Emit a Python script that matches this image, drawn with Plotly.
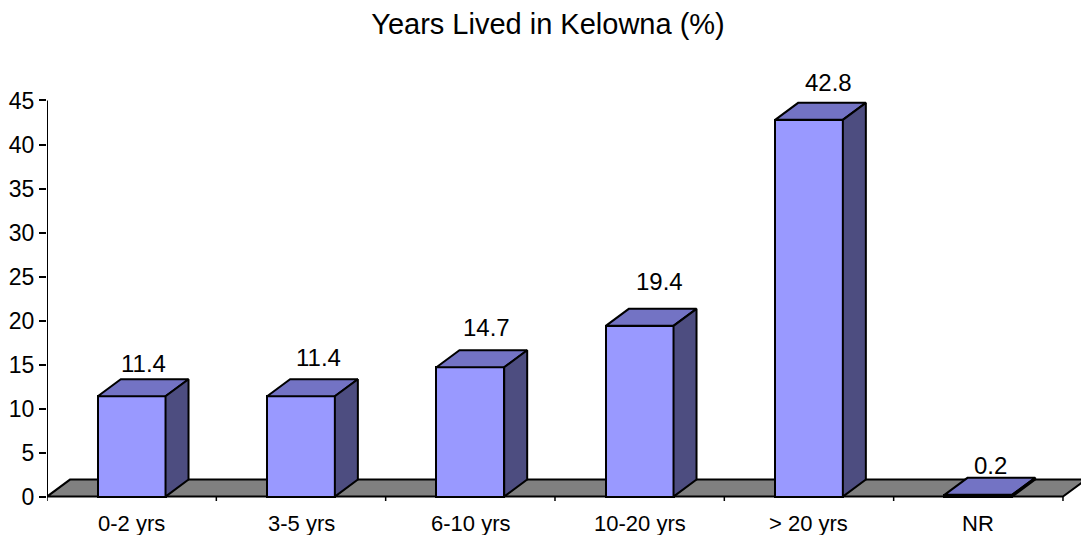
import plotly.graph_objects as go

# ---- data ----
categories = ["0-2 yrs", "3-5 yrs", "6-10 yrs", "10-20 yrs", "> 20 yrs", "NR"]
values = [11.4, 11.4, 14.7, 19.4, 42.8, 0.2]
y_tick_values = [0, 5, 10, 15, 20, 25, 30, 35, 40, 45]
y_tick_labels = ["0", "5", "10", "15", "20", "25", "30", "35", "40", "45"]
title_text = "Years Lived in Kelowna (%)"

# ---- style / layout constants ----
FONT = "Arial, Liberation Sans, sans-serif"
FRONT = "#9999FF"
TOP = "#7373C4"
SIDE = "#4D4D80"
FLOOR = "#808080"
W, H = 1081, 535
ML, MR, MT, MB = 47, 0, 60, 34
PX_PER_CAT = 169.33
X0 = -0.5
X1 = X0 + (W - ML - MR) / PX_PER_CAT
Y0, Y1 = -0.5, 49.6
px_per_y = (H - MT - MB) / (Y1 - Y0)
DX = 23 / PX_PER_CAT          # depth offset in x (data units)
DY = 17 / px_per_y            # depth offset in y (data units)
BW = 0.4                      # bar width
label_nudge_x = [12, 17, 16, 20, 20, 12]   # px, label offsets
label_nudge_y = [33, 39, 40, 44, 37, 29]

n = len(categories)
xs = list(range(n))

fig = go.Figure()

# front faces
fig.add_trace(go.Bar(
    x=xs, y=values, width=BW,
    marker=dict(color=FRONT, line=dict(color="black", width=2)),
    hoverinfo="skip", showlegend=False,
))

# top and side faces
for i, v in zip(xs, values):
    l, r = i - BW / 2, i + BW / 2
    fig.add_trace(go.Scatter(
        x=[l, r, r + DX, l + DX, l], y=[v, v, v + DY, v + DY, v],
        mode="lines", fill="toself", fillcolor=TOP,
        line=dict(color="black", width=2), hoverinfo="skip", showlegend=False,
    ))
    fig.add_trace(go.Scatter(
        x=[r, r + DX, r + DX, r, r], y=[0, DY, v + DY, v, 0],
        mode="lines", fill="toself", fillcolor=SIDE,
        line=dict(color="black", width=2), hoverinfo="skip", showlegend=False,
    ))

shapes = []
# floor
fl, fr = -0.5, n - 0.5
shapes.append(dict(
    type="path", xref="x", yref="y", layer="below",
    path=f"M {fl},0 L {fr},0 L {fr + DX},{DY} L {fl + DX},{DY} Z",
    fillcolor=FLOOR, line=dict(color="black", width=2),
))
# y axis line
shapes.append(dict(type="line", xref="x", yref="y", x0=fl, x1=fl, y0=0,
                   y1=y_tick_values[-1], line=dict(color="black", width=2)))
# x axis tick marks at category boundaries
for k in range(n + 1):
    b = k - 0.5
    shapes.append(dict(type="line", xref="x", yref="y", ysizemode="pixel",
                       yanchor=0, x0=b, x1=b, y0=0, y1=-8,
                       line=dict(color="black", width=1.5)))

annotations = []
for i, (c, v) in enumerate(zip(categories, values)):
    annotations.append(dict(
        x=i, y=0, xref="x", yref="y", text=c, showarrow=False,
        yanchor="middle", yshift=-27, font=dict(family=FONT, size=22, color="black"),
    ))
    annotations.append(dict(
        x=i, y=v, xref="x", yref="y", text=f"{v:.1f}", showarrow=False,
        xanchor="center", yanchor="middle",
        xshift=label_nudge_x[i], yshift=label_nudge_y[i],
        font=dict(family=FONT, size=24, color="black"),
    ))

fig.update_layout(
    width=W, height=H,
    margin=dict(l=ML, r=MR, t=MT, b=MB, pad=0),
    paper_bgcolor="white", plot_bgcolor="white",
    title=dict(text=title_text, x=548 / W, xref="container", xanchor="center",
               y=1 - 24 / H, yref="container", yanchor="middle",
               font=dict(family=FONT, size=29, color="black")),
    xaxis=dict(range=[X0, X1], showgrid=False, zeroline=False, showline=False,
               showticklabels=False, ticks="", fixedrange=True),
    yaxis=dict(range=[Y0, Y1], showgrid=False, zeroline=False, showline=False,
               tickvals=y_tick_values, ticktext=y_tick_labels,
               ticks="outside", ticklen=7, tickwidth=1.5, tickcolor="black",
               tickfont=dict(family=FONT, size=23, color="black"), fixedrange=True),
    shapes=shapes, annotations=annotations, bargap=0,
    showlegend=False,
)

fig.write_html(
    "out.html",
    config={"displayModeBar": False},
    post_script="document.body.style.margin='0';document.body.style.overflow='hidden';",
)
